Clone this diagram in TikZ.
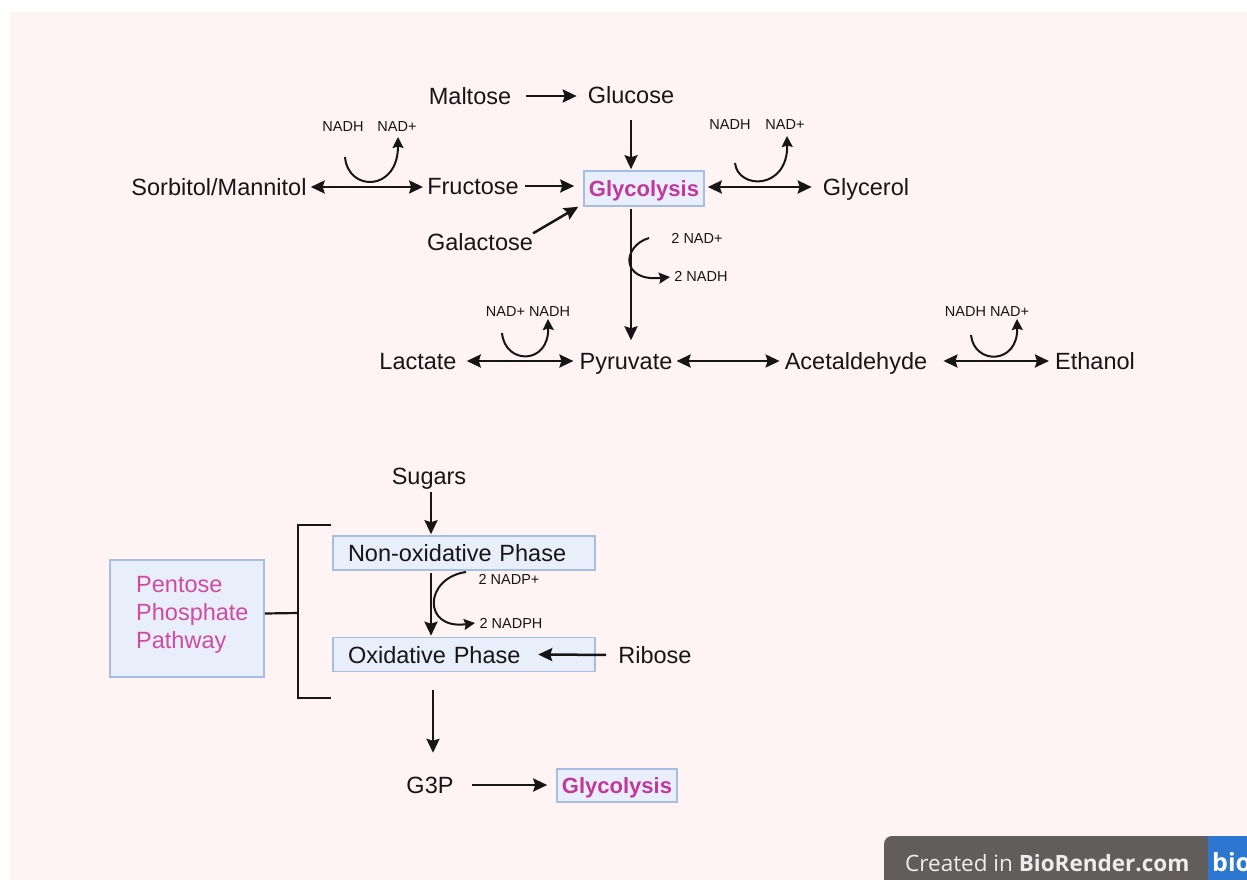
\documentclass[tikz,border=0pt]{standalone}
\usepackage{fontspec}
\setmainfont{Liberation Sans}
\newfontfamily\badgefont{Open Sans}
\usetikzlibrary{arrows.meta,calc}
\definecolor{bgpink}{HTML}{FFF4F3}
\definecolor{txt}{HTML}{161616}
\definecolor{boxfill}{HTML}{E9EFFA}
\definecolor{boxdraw}{HTML}{A6BDE4}
\definecolor{mag}{HTML}{C2379A}
\definecolor{magl}{HTML}{CF4AA0}
\definecolor{badgegray}{HTML}{615D5D}
\definecolor{badgeblue}{HTML}{2E77D0}
\definecolor{badgetext}{HTML}{EDEDED}
\begin{document}
\begin{tikzpicture}[x=1pt,y=-1pt,
  lbl/.style={font=\fontsize{23.5}{26}\selectfont, text=txt, inner sep=0pt, text height=17pt, text depth=0pt},
  small/.style={font=\fontsize{14.5}{16}\selectfont, text=txt, inner sep=0pt},
  box/.style={draw=boxdraw, fill=boxfill, line width=1.6pt, inner sep=0pt},
  gbox/.style={box, minimum width=120pt, minimum height=35pt, font=\bfseries\fontsize{22}{24}\selectfont, text=mag, text height=16pt, text depth=0pt},
  pbox/.style={box, inner xsep=15pt, inner ysep=0pt, text width=232pt, align=left, minimum height=34pt, font=\fontsize{23.5}{26}\selectfont, text=txt, text height=17pt, text depth=0pt},
  ppptxt/.style={anchor=west, align=left, inner sep=0pt, font=\fontsize{23.5}{28}\selectfont, text=magl},
  arr/.style={draw=txt, line width=2.5pt, -{Stealth[length=14pt,width=13pt,inset=2pt]}},
  darr/.style={draw=txt, line width=2.5pt, {Stealth[length=14pt,width=13pt,inset=2pt]}-{Stealth[length=14pt,width=13pt,inset=2pt]}},
  hook/.style={draw=txt, line width=2pt, -{Stealth[length=11pt,width=11pt,inset=1.5pt]}},
  bracket/.style={draw=txt, line width=2.2pt},
]
\clip (0,0) rectangle (1247,880);
\useasboundingbox (0,0) rectangle (1247,880);
\fill[white] (0,0) rectangle (1247,880);
\fill[bgpink] (10,12) rectangle (1247,880);

% ---------- top part ----------
\node[lbl] (maltose) at (470,96) {Maltose};
\node[lbl] (glucose) at (631,95) {Glucose};
\node[gbox] (glyc1) at (644,188.5) {Glycolysis};
\node[lbl] (fructose) at (473,186) {Fructose};
\node[lbl] (sorbitol) at (219,187) {Sorbitol/Mannitol};
\node[lbl] (galactose) at (480,242) {Galactose};
\node[lbl] (glycerol) at (866,187) {Glycerol};
\node[lbl] (lactate) at (418,361) {Lactate};
\node[lbl] (pyruvate) at (626,361) {Pyruvate};
\node[lbl] (acet) at (856,361) {Acetaldehyde};
\node[lbl] (ethanol) at (1095,361) {Ethanol};

\node[small] (s1a) at (343,127) {NADH};
\node[small] (s1b) at (397,127) {NAD+};
\node[small] (s2a) at (730,125) {NADH};
\node[small] (s2b) at (785,125) {NAD+};
\node[small] (s3a) at (697,238) {2 NAD+};
\node[small] (s3b) at (701,276) {2 NADH};
\node[small] (s4) at (528,312) {NAD+ NADH};
\node[small] (s5) at (987,312) {NADH NAD+};

\draw[arr, shorten <=15pt, shorten >=11pt] (maltose.east) -- (maltose.east -| glucose.west);
\draw[darr, shorten <=4pt, shorten >=4pt] (sorbitol.east) -- (sorbitol.east -| fructose.west);
\draw[arr, shorten <=6pt, shorten >=9pt] (fructose.east) -- (fructose.east -| glyc1.west);
\draw[arr] (galactose.north east) -- ([xshift=-5pt]glyc1.south west);
\draw[arr, shorten <=16pt, shorten >=1pt] (glucose.south) -- (glucose.south |- glyc1.north);
\draw[arr, shorten <=2pt, shorten >=12pt] (glucose.south |- glyc1.south) -- (glucose.south |- pyruvate.north);
\draw[darr, shorten <=3pt, shorten >=11pt] (glycerol.west -| glyc1.east) -- (glycerol.west);
\draw[darr, shorten <=10pt, shorten >=6pt] (lactate.east) -- (pyruvate.west);
\draw[darr, shorten <=4pt, shorten >=5pt] (pyruvate.east) -- (acet.west);
\draw[darr, shorten <=16pt, shorten >=6pt] (acet.east) -- (ethanol.west);

\draw[hook] (345,157) .. controls (348,192) and (398,192) .. (398,137);
\draw[hook] (735,163) .. controls (738,190) and (788,190) .. (787,136);
\draw[hook] (649,238) .. controls (622,246) and (620,282) .. (670,277);
\draw[hook] (502,333) .. controls (505,365) and (549,365) .. (548,319);
\draw[hook] (971,335) .. controls (974,365) and (1018,365) .. (1017,319);

% ---------- bottom part ----------
\node[lbl] (sugars) at (429,476) {Sugars};
\node[pbox] (nonox) at (464,553) {Non-oxidative Phase};
\node[pbox] (oxid) at (464,654.5) {Oxidative Phase};
\node[lbl] (ribose) at (655,655) {Ribose};
\node[box, minimum width=154pt, minimum height=117pt] (ppp) at (187,618.5) {};
\node[ppptxt] (ppptext) at (136,615) {Pentose\\Phosphate\\Pathway};
\node[lbl] (g3p) at (430,785) {G3P};
\node[gbox, minimum height=33pt] (glyc2) at (617,785.5) {Glycolysis};
\node[small] (s6a) at (509,579) {2 NADP+};
\node[small] (s6b) at (511,623) {2 NADPH};

\coordinate (colA) at (431,0);
\coordinate (colB) at (433,0);
\coordinate (brtop) at (331,525);
\coordinate (brbot) at (331,698);
\coordinate (brmid) at (298,613);

\draw[arr, shorten <=7.5pt, shorten >=1pt] (sugars.south -| colA) -- (nonox.north -| colA);
\draw[arr, shorten <=2pt, shorten >=1pt] (nonox.south -| colA) -- (oxid.north -| colA);
\draw[arr, shorten <=12pt] (ribose.west) -- ([xshift=206pt]oxid.west);
\draw[arr, shorten <=18pt, shorten >=23.5pt] (oxid.south -| colB) -- (g3p.north -| colB);
\draw[arr, shorten <=18pt, shorten >=9pt] (g3p.east) -- (g3p.east -| glyc2.west);
\draw[bracket] (brtop) -- (brtop -| brmid) -- (brbot -| brmid) -- (brbot);
\draw[bracket] ([yshift=5pt]ppp.east) -- (brmid);
\draw[hook] (466,572) .. controls (424,578) and (422,630) .. (475,623);

% ---------- badge ----------
\fill[badgegray, rounded corners=8pt] (884,836) rectangle (1270,900);
\fill[badgeblue] (1208,836) rectangle (1247,880);
\node[anchor=west, font=\badgefont\fontsize{22.5}{24}\selectfont, text=badgetext, inner sep=0pt] (badge) at (905,863) {Created in \textbf{BioRender.com}};
\node[anchor=west, font=\badgefont\bfseries\fontsize{25}{26}\selectfont, text=white, inner sep=0pt] (bio) at (1212,862) {bio};
\end{tikzpicture}
\end{document}
